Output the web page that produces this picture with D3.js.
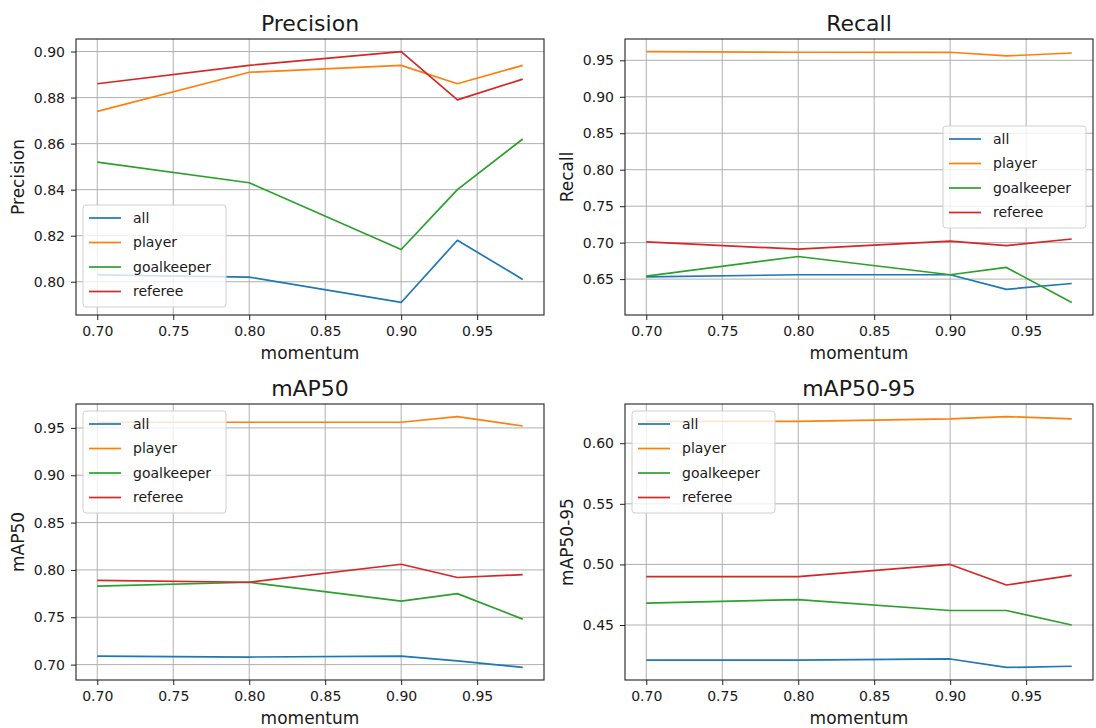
<!DOCTYPE html>
<html>
<head>
<meta charset="utf-8">
<script src="https://cdn.jsdelivr.net/npm/d3@7"></script>
<style>
  html, body { margin: 0; padding: 0; background: #fff; }
  svg { display: block; }
  text { font-family: "DejaVu Sans", sans-serif; fill: #1a1a1a; }
</style>
</head>
<body>
<svg id="chart" width="1096" height="728"></svg>
<script>
// Momentum sweep: detection metrics per class
const momentum = [0.70, 0.80, 0.90, 0.937, 0.98];
const classes = ["all", "player", "goalkeeper", "referee"];
const colors = ["#1f77b4", "#ff7f0e", "#2ca02c", "#d62728"];
const xTicks = [0.70, 0.75, 0.80, 0.85, 0.90, 0.95];

const precisionAll        = [0.803, 0.802, 0.791, 0.818, 0.801];
const precisionPlayer     = [0.874, 0.891, 0.894, 0.886, 0.894];
const precisionGoalkeeper = [0.852, 0.843, 0.814, 0.840, 0.862];
const precisionReferee    = [0.886, 0.894, 0.900, 0.879, 0.888];
const precisionTicks      = [0.80, 0.82, 0.84, 0.86, 0.88, 0.90];

const recallAll        = [0.653, 0.656, 0.656, 0.636, 0.644];
const recallPlayer     = [0.962, 0.961, 0.961, 0.956, 0.960];
const recallGoalkeeper = [0.654, 0.681, 0.656, 0.666, 0.618];
const recallReferee    = [0.701, 0.691, 0.702, 0.696, 0.705];
const recallTicks      = [0.65, 0.70, 0.75, 0.80, 0.85, 0.90, 0.95];

const map50All        = [0.709, 0.708, 0.709, 0.704, 0.697];
const map50Player     = [0.956, 0.956, 0.956, 0.962, 0.952];
const map50Goalkeeper = [0.783, 0.787, 0.767, 0.775, 0.748];
const map50Referee    = [0.789, 0.787, 0.806, 0.792, 0.795];
const map50Ticks      = [0.70, 0.75, 0.80, 0.85, 0.90, 0.95];

const map5095All        = [0.421, 0.421, 0.422, 0.415, 0.416];
const map5095Player     = [0.618, 0.618, 0.620, 0.622, 0.620];
const map5095Goalkeeper = [0.468, 0.471, 0.462, 0.462, 0.450];
const map5095Referee    = [0.490, 0.490, 0.500, 0.483, 0.491];
const map5095Ticks      = [0.45, 0.50, 0.55, 0.60];

const panels = [
  { title: "Precision", series: [precisionAll, precisionPlayer, precisionGoalkeeper, precisionReferee],
    ticks: precisionTicks, box: [76, 39, 544, 315], legend: [83, 205] },
  { title: "Recall", series: [recallAll, recallPlayer, recallGoalkeeper, recallReferee],
    ticks: recallTicks, box: [625, 39, 1093, 315], legend: [943, 126] },
  { title: "mAP50", series: [map50All, map50Player, map50Goalkeeper, map50Referee],
    ticks: map50Ticks, box: [76, 404, 544, 680], legend: [83, 411] },
  { title: "mAP50-95", series: [map5095All, map5095Player, map5095Goalkeeper, map5095Referee],
    ticks: map5095Ticks, box: [625, 404, 1093, 680], legend: [632, 411] }
];

const svg = d3.select("#chart");
const fmt = d3.format(".2f");

// pad a [min, max] extent by 5% on each side
function padded(lo, hi) {
  const m = (hi - lo) * 0.05;
  return [lo - m, hi + m];
}

panels.forEach(p => {
  const [x0, y0, x1, y1] = p.box;
  const w = x1 - x0, h = y1 - y0;
  const g = svg.append("g").attr("transform", `translate(${x0},${y0})`);

  const x = d3.scaleLinear().domain(padded(d3.min(momentum), d3.max(momentum))).range([0, w]);
  const allVals = p.series.flat();
  const y = d3.scaleLinear().domain(padded(d3.min(allVals), d3.max(allVals))).range([h, 0]);

  // grid
  g.append("g").selectAll("line").data(xTicks).join("line")
    .attr("x1", d => x(d)).attr("x2", d => x(d)).attr("y1", 0).attr("y2", h)
    .attr("stroke", "#b0b0b0").attr("stroke-width", 1);
  g.append("g").selectAll("line").data(p.ticks).join("line")
    .attr("y1", d => y(d)).attr("y2", d => y(d)).attr("x1", 0).attr("x2", w)
    .attr("stroke", "#b0b0b0").attr("stroke-width", 1);

  // axes
  const xAxis = g.append("g").attr("transform", `translate(0,${h})`)
    .call(d3.axisBottom(x).tickValues(xTicks).tickFormat(fmt).tickSize(5).tickSizeOuter(0));
  const yAxis = g.append("g")
    .call(d3.axisLeft(y).tickValues(p.ticks).tickFormat(fmt).tickSize(5).tickSizeOuter(0));
  [xAxis, yAxis].forEach(a => {
    a.select(".domain").remove();
    a.selectAll(".tick line").attr("stroke", "#222").attr("stroke-width", 1);
    a.selectAll(".tick text").attr("font-size", 14).attr("fill", "#1a1a1a")
      .style("font-family", "'DejaVu Sans', sans-serif");
  });
  xAxis.selectAll(".tick text").attr("dy", "0.71em").attr("y", 11);
  yAxis.selectAll(".tick text").attr("x", -11);

  // series lines
  const line = d3.line().x((d, i) => x(momentum[i])).y(d => y(d));
  p.series.forEach((s, k) => {
    g.append("path").datum(s).attr("d", line)
      .attr("fill", "none").attr("stroke", colors[k]).attr("stroke-width", 1.7)
      .attr("stroke-linejoin", "round");
  });

  // frame
  g.append("rect").attr("width", w).attr("height", h)
    .attr("fill", "none").attr("stroke", "#222").attr("stroke-width", 1.1);

  // title and axis labels
  g.append("text").attr("x", w / 2).attr("y", -8).attr("text-anchor", "middle")
    .attr("font-size", 22).text(p.title);
  g.append("text").attr("x", w / 2).attr("y", h + 44).attr("text-anchor", "middle")
    .attr("font-size", 17).text("momentum");
  g.append("text").attr("transform", `translate(${-52},${h / 2}) rotate(-90)`)
    .attr("text-anchor", "middle").attr("font-size", 17).text(p.title);

  // legend
  const [lx, ly] = p.legend;
  const lg = svg.append("g").attr("transform", `translate(${lx},${ly})`);
  lg.append("rect").attr("width", 143).attr("height", 102).attr("rx", 3)
    .attr("fill", "#fff").attr("fill-opacity", 0.8)
    .attr("stroke", "#d0d0d0").attr("stroke-width", 1);
  classes.forEach((c, k) => {
    const cy = 13 + k * 24.5;
    lg.append("line").attr("x1", 6).attr("x2", 38).attr("y1", cy).attr("y2", cy)
      .attr("stroke", colors[k]).attr("stroke-width", 1.7);
    lg.append("text").attr("x", 50).attr("y", cy).attr("dy", "0.35em")
      .attr("font-size", 14).text(c);
  });
});
</script>
</body>
</html>
